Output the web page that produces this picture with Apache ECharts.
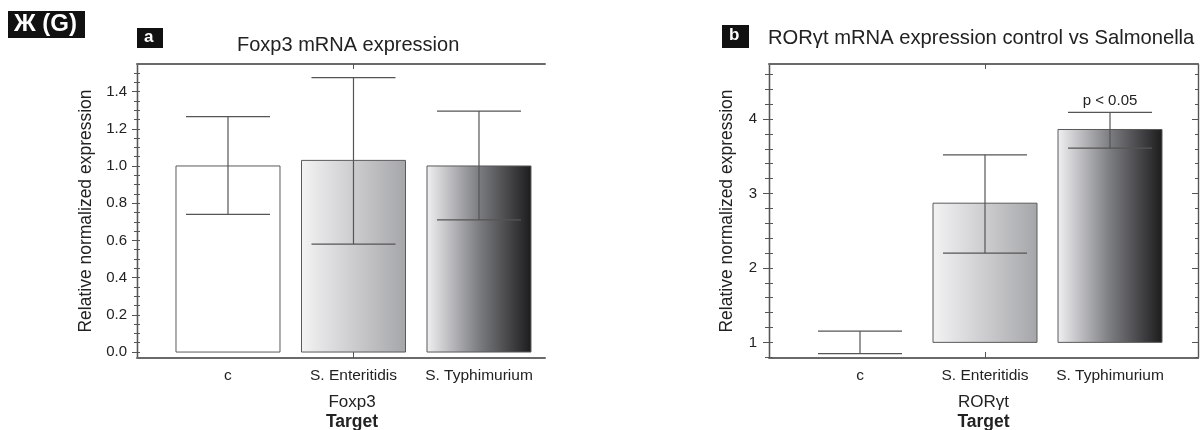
<!DOCTYPE html>
<html style="height: 100%">
<head>
  <meta charset="utf-8" />
  <title>Foxp3 / RORγt mRNA expression</title>
  <script src="https://cdn.jsdelivr.net/npm/echarts@6/dist/echarts.min.js"></script>
</head>
<body style="height: 100%; margin: 0; overflow: hidden; background: #fff">
  <div id="container" style="width: 1200px; height: 430px"></div>
  <script>
    // data
    var categories = ["c", "S. Enteritidis", "S. Typhimurium"];
    var foxp3Mean = [1.0, 1.03, 1.0];
    var foxp3Low = [0.74, 0.58, 0.71];
    var foxp3High = [1.265, 1.475, 1.295];
    var rorMean = [1.0, 2.87, 3.86];
    var rorLow = [0.85, 2.2, 3.61];
    var rorHigh = [1.15, 3.52, 4.09];
    var rorSig = ["", "", "p < 0.05"];
    var foxp3Base = 0;
    var rorBase = 1;

    // tick labels
    var foxp3Ticks = [0, 0.2, 0.4, 0.6, 0.8, 1.0, 1.2, 1.4];
    var rorTicks = [1, 2, 3, 4];
    var foxp3Minor = [];
    for (var i = 0; i <= 30; i++) foxp3Minor.push(+(i * 0.05).toFixed(2));
    var rorMinor = [];
    for (var j = 4; j <= 23; j++) rorMinor.push(+(j * 0.2).toFixed(1));

    var FONT = "Liberation Sans";
    var TXT = "#222";
    var AX = "#6a6a6a";

    function grad(stops) {
      return { type: "linear", x: 0, y: 0, x2: 1, y2: 0, colorStops: stops };
    }
    var fills = [
      "#ffffff",
      grad([{ offset: 0, color: "#f3f3f4" }, { offset: 1, color: "#a5a6a9" }]),
      grad([{ offset: 0, color: "#f0f0f2" }, { offset: 0.5, color: "#7c7d81" }, { offset: 1, color: "#1c1c1d" }])
    ];

    function barItem(params, api) {
      var x = api.value(0), base = api.value(1), top = api.value(2);
      if (top === base) return null;
      var p0 = api.coord([x, top]);
      var p1 = api.coord([x, base]);
      return {
        type: "rect",
        shape: { x: p0[0] - 52, y: p0[1], width: 104, height: p1[1] - p0[1] },
        style: { fill: fills[params.dataIndex], stroke: "#5a5a5a", lineWidth: 1 }
      };
    }

    function errItem(labels) {
      return function (params, api) {
        var x = api.value(0);
        var lo = api.coord([x, api.value(1)]);
        var hi = api.coord([x, api.value(2)]);
        var st = { stroke: "#555", lineWidth: 1.2 };
        var kids = [
          { type: "line", shape: { x1: hi[0], y1: hi[1], x2: lo[0], y2: lo[1] }, style: st },
          { type: "line", shape: { x1: hi[0] - 42, y1: hi[1], x2: hi[0] + 42, y2: hi[1] }, style: st },
          { type: "line", shape: { x1: lo[0] - 42, y1: lo[1], x2: lo[0] + 42, y2: lo[1] }, style: st }
        ];
        var t = labels && labels[params.dataIndex];
        if (t) {
          kids.push({
            type: "text", x: hi[0], y: hi[1] - 4,
            style: { text: t, align: "center", verticalAlign: "bottom", fontSize: 15, fontFamily: FONT, fill: TXT }
          });
        }
        return { type: "group", children: kids };
      };
    }

    function xBottom(grid, min, max, name, pad) {
      return {
        gridIndex: grid, type: "value", min: min, max: max, position: "bottom",
        splitLine: { show: false },
        axisLine: { onZero: false, lineStyle: { color: AX, width: 2 } },
        axisTick: { customValues: [2], inside: true, length: 6, lineStyle: { color: "#555" } },
        axisLabel: {
          customValues: [1, 2, 3], margin: 10, fontSize: 15.5, fontFamily: FONT, color: TXT,
          formatter: function (v) { return categories[Math.round(v) - 1]; }
        },
        name: name + "\n{t|Target}", nameLocation: "middle", nameGap: 34,
        nameTextStyle: {
          fontSize: 17, fontFamily: FONT, color: TXT, lineHeight: 20, padding: pad,
          rich: { t: { fontSize: 17.5, fontWeight: "bold", fontFamily: FONT, color: TXT, lineHeight: 20 } }
        }
      };
    }
    function xTop(grid, min, max) {
      return {
        gridIndex: grid, type: "value", min: min, max: max, position: "top",
        splitLine: { show: false },
        axisLine: { onZero: false, lineStyle: { color: AX, width: 2 } },
        axisTick: { customValues: [2], inside: true, length: 5, lineStyle: { color: "#555" } },
        axisLabel: { show: false }
      };
    }
    function yAx(grid, min, max, pos, opts) {
      var a = {
        gridIndex: grid, type: "value", min: min, max: max, position: pos,
        splitLine: { show: false },
        axisLine: { show: true, onZero: false, lineStyle: { color: "#555", width: 1.2 } },
        axisLabel: { show: false },
        axisTick: { show: true, lineStyle: { color: "#555" } }
      };
      return Object.assign(a, opts || {});
    }

    var fxMin = -0.032, fxMax = 1.548, rrMin = 0.79, rrMax = 4.74;
    var nameStyle = { fontSize: 17.5, fontFamily: FONT, color: TXT };

    var option = {
      animation: false,
      grid: [
        { left: 137, right: 655, top: 64, bottom: 72, outerBoundsMode: "none", containLabel: false },
        { left: 769, right: 2, top: 64, bottom: 72, outerBoundsMode: "none", containLabel: false }
      ],
      xAxis: [
        xBottom(0, 0.275, 3.526, "Foxp3", [0, 0, 0, 22]),
        xTop(0, 0.275, 3.526),
        xBottom(1, 0.272, 3.704, "RORγt", [0, 0, 0, 0]),
        xTop(1, 0.272, 3.704)
      ],
      yAxis: [
        // Foxp3 panel
        yAx(0, fxMin, fxMax, "left", {
          axisLabel: {
            show: true, customValues: foxp3Ticks, margin: 10, fontSize: 15, fontFamily: FONT, color: TXT,
            formatter: function (v) { return v.toFixed(1); }
          },
          axisTick: { customValues: foxp3Ticks, length: 5, lineStyle: { color: "#555" } },
          name: "Relative normalized expression", nameLocation: "middle", nameGap: 42, nameTextStyle: nameStyle
        }),
        yAx(0, fxMin, fxMax, "left", { axisTick: { customValues: foxp3Minor, inside: true, length: 3, lineStyle: { color: "#555" } } }),
        yAx(0, fxMin, fxMax, "left", { axisTick: { customValues: foxp3Minor, length: 3, lineStyle: { color: "#555" } } }),
        // RORγt panel
        yAx(1, rrMin, rrMax, "left", {
          axisLabel: { show: true, customValues: rorTicks, margin: 12, fontSize: 15, fontFamily: FONT, color: TXT },
          axisTick: { customValues: rorTicks, length: 6, lineStyle: { color: "#555" } },
          name: "Relative normalized expression", nameLocation: "middle", nameGap: 33, nameTextStyle: nameStyle
        }),
        yAx(1, rrMin, rrMax, "left", { axisTick: { customValues: rorMinor, inside: true, length: 4, lineStyle: { color: "#555" } } }),
        yAx(1, rrMin, rrMax, "left", { axisTick: { customValues: rorMinor, length: 4, lineStyle: { color: "#555" } } }),
        yAx(1, rrMin, rrMax, "right", { axisTick: { customValues: rorMinor, inside: true, length: 3, lineStyle: { color: "#555" } } }),
        yAx(1, rrMin, rrMax, "right", { axisTick: { customValues: rorTicks, inside: true, length: 6, lineStyle: { color: "#555" } } })
      ],
      graphic: [
        { type: "rect", left: 8, top: 11, shape: { width: 77, height: 27 }, style: { fill: "#111" } },
        { type: "text", left: 14, top: 12, style: { text: "Ж (G)", fill: "#fff", fontSize: 24, fontWeight: "bold", fontFamily: FONT } },
        { type: "rect", left: 137, top: 28, shape: { width: 26, height: 20 }, style: { fill: "#111" } },
        { type: "text", left: 144, top: 29, style: { text: "a", fill: "#fff", fontSize: 17, fontWeight: "bold", fontFamily: FONT } },
        { type: "text", left: 237, top: 35, style: { text: "Foxp3 mRNA expression", fill: TXT, fontSize: 20, fontFamily: FONT } },
        { type: "rect", left: 722, top: 25, shape: { width: 27, height: 23 }, style: { fill: "#111" } },
        { type: "text", left: 729, top: 27, style: { text: "b", fill: "#fff", fontSize: 17, fontWeight: "bold", fontFamily: FONT } },
        { type: "text", left: 768, top: 28, style: { text: "RORγt mRNA expression control vs Salmonella", fill: TXT, fontSize: 20.2, fontFamily: FONT } }
      ],
      series: [
        {
          type: "custom", xAxisIndex: 0, yAxisIndex: 0, renderItem: barItem,
          data: categories.map(function (c, k) { return [k + 1, foxp3Base, foxp3Mean[k]]; })
        },
        {
          type: "custom", xAxisIndex: 0, yAxisIndex: 0, renderItem: errItem(null), z: 3,
          data: categories.map(function (c, k) { return [k + 1, foxp3Low[k], foxp3High[k]]; })
        },
        {
          type: "custom", xAxisIndex: 2, yAxisIndex: 3, renderItem: barItem,
          data: categories.map(function (c, k) { return [k + 1, rorBase, rorMean[k]]; })
        },
        {
          type: "custom", xAxisIndex: 2, yAxisIndex: 3, renderItem: errItem(rorSig), z: 3,
          data: categories.map(function (c, k) { return [k + 1, rorLow[k], rorHigh[k]]; })
        }
      ]
    };

    var myChart = echarts.init(document.getElementById("container"), null, { renderer: "canvas" });
    myChart.setOption(option);
  </script>
</body>
</html>
